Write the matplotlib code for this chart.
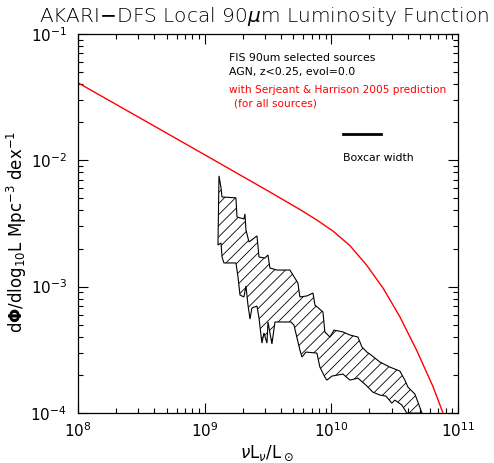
import numpy as np
import matplotlib
matplotlib.use('Agg')
import matplotlib.pyplot as plt

# Serjeant & Harrison 2005 prediction (log10 L, log10 phi)
model_logL = [8.0, 8.5, 9.0, 9.5, 9.752, 9.884, 10.015, 10.147, 10.278,
              10.41, 10.541, 10.673, 10.804, 10.883, 10.93]
model_logphi = [-1.388, -1.672, -1.957, -2.243, -2.39, -2.472, -2.562,
                -2.676, -2.829, -3.014, -3.238, -3.502, -3.793, -4.003, -4.13]

# upper edge of the boxcar-smoothed LF band
upper_logL = [9.113, 9.129, 9.137, 9.247, 9.255, 9.310, 9.318, 9.326, 9.350,
              9.413, 9.429, 9.476, 9.500, 9.515, 9.571, 9.673, 9.697, 9.736,
              9.752, 9.807, 9.855, 9.871, 9.934, 9.949, 9.989, 10.021, 10.092,
              10.147, 10.210, 10.242, 10.281, 10.305, 10.384, 10.463, 10.541,
              10.581, 10.605, 10.660, 10.684, 10.715]
upper_logphi = [-2.124, -2.219, -2.291, -2.298, -2.449, -2.465, -2.425, -2.552,
                -2.647, -2.599, -2.766, -2.774, -2.750, -2.853, -2.869, -2.869,
                -2.908, -2.971, -3.082, -3.074, -3.051, -3.146, -3.201, -3.359,
                -3.399, -3.344, -3.359, -3.383, -3.399, -3.478, -3.518, -3.534,
                -3.597, -3.637, -3.668, -3.740, -3.795, -3.850, -3.914, -4.001]

# lower edge of the band
lower_logL = [9.105, 9.129, 9.137, 9.152, 9.247, 9.263, 9.279, 9.310, 9.326,
              9.342, 9.358, 9.373, 9.413, 9.429, 9.452, 9.468, 9.492, 9.500,
              9.531, 9.555, 9.681, 9.705, 9.752, 9.768, 9.800, 9.886, 9.910,
              9.949, 9.965, 10.005, 10.092, 10.147, 10.210, 10.273, 10.328,
              10.384, 10.431, 10.478, 10.502, 10.557, 10.597]
lower_logphi = [-2.671, -2.655, -2.766, -2.813, -2.813, -2.924, -3.067, -3.082,
                -2.995, -3.146, -3.257, -3.169, -3.154, -3.249, -3.447, -3.367,
                -3.447, -3.280, -3.454, -3.280, -3.280, -3.304, -3.502, -3.557,
                -3.518, -3.526, -3.637, -3.716, -3.740, -3.708, -3.692, -3.740,
                -3.724, -3.779, -3.835, -3.858, -3.866, -3.922, -3.898, -3.937,
                -4.001]

# boxcar width marker
boxcar_logL = [10.092, 10.391]
boxcar_logphi = -1.79

plt.rcParams['hatch.linewidth'] = 0.6

fig = plt.figure(figsize=(4.94, 4.63), dpi=100)
ax = fig.add_axes([0.158, 0.108, 0.769, 0.819])

ax.plot(10**np.array(model_logL), 10**np.array(model_logphi), color='red', lw=1.0)

# band polygon: upper edge left->right, lower edge right->left
poly_x = 10**np.concatenate([upper_logL, lower_logL[::-1]])
poly_y = 10**np.concatenate([upper_logphi, lower_logphi[::-1]])
ax.fill(poly_x, poly_y, facecolor='white', edgecolor='black', hatch='///', lw=0.8)

ax.plot(10**np.array(boxcar_logL), [10**boxcar_logphi] * 2, color='black', lw=2)
ax.text(10**boxcar_logL[0], 10**(boxcar_logphi - 0.19), 'Boxcar width',
        fontsize=7.8, va='center', ha='left')

ax.set_xscale('log')
ax.set_yscale('log')
ax.set_xlim(1e8, 1e11)
ax.set_ylim(1e-4, 1e-1)

ax.tick_params(which='both', direction='in', top=True, right=True,
               labelsize=11)
ax.tick_params(axis='x', pad=6)
ax.tick_params(axis='y', pad=8)
ax.tick_params(which='major', length=7, width=0.8)
ax.tick_params(which='minor', length=3.5, width=0.8)
for s in ax.spines.values():
    s.set_linewidth(0.9)

ax.set_xlabel(r'$\nu$L$_\nu$/L$_\odot$', fontsize=12)
ax.set_ylabel(r'd$\mathbf{\Phi}$/dlog$_{10}$L Mpc$^{-3}$ dex$^{-1}$', fontsize=12)
ax.yaxis.set_label_coords(-0.128, 0.479)
ax.xaxis.set_label_coords(0.497, -0.082)

fig.text(0.535, 0.965, r'AKARI$-$DFS Local 90$\mu$m Luminosity Function',
         fontsize=14.5, ha='center', va='center', fontweight='light')

ax.text(0.398, 0.935, 'FIS 90um selected sources', transform=ax.transAxes,
        fontsize=7.8, va='center')
ax.text(0.398, 0.898, 'AGN, z<0.25, evol=0.0', transform=ax.transAxes,
        fontsize=7.8, va='center')
ax.text(0.398, 0.853, 'with Serjeant & Harrison 2005 prediction',
        transform=ax.transAxes, fontsize=7.6, va='center', color='red')
ax.text(0.41, 0.816, '(for all sources)', transform=ax.transAxes,
        fontsize=7.6, va='center', color='red')

fig.savefig('out.png', dpi=100)
